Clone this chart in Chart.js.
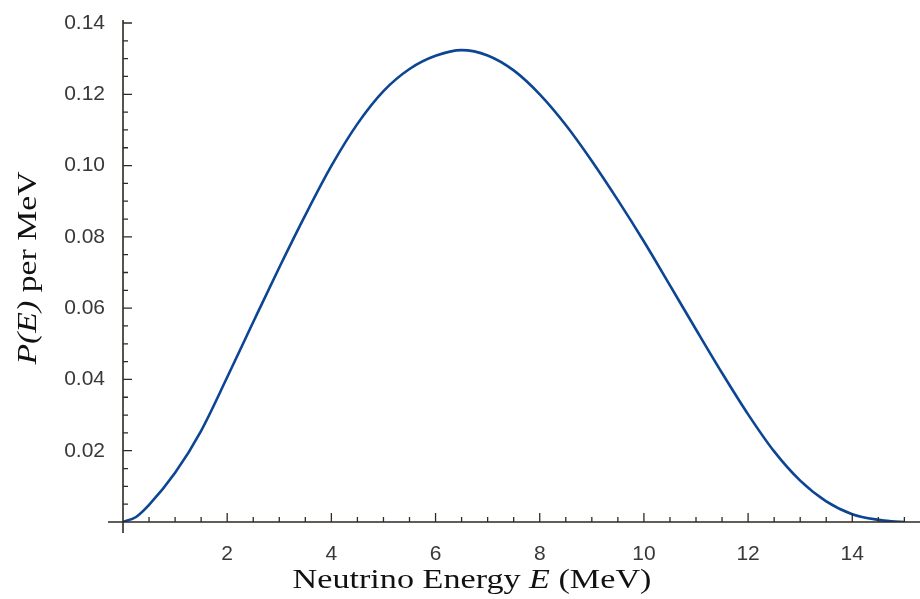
<!DOCTYPE html>
<html>
<head>
<meta charset="utf-8">
<script src="https://cdn.jsdelivr.net/npm/chart.js@4.4.1/dist/chart.umd.min.js"></script>
<style>
  body { margin: 0; background: #fff; }
  #wrap { width: 920px; height: 599px; }
</style>
</head>
<body>
<div id="wrap"><canvas id="spectrum" width="920" height="599"></canvas></div>
<script>
// Neutrino energy (MeV) and P(E) per MeV
const energies = [0, 0.25, 0.5, 1, 1.5, 2, 2.5, 3, 3.5, 4, 4.5, 5, 5.5, 6, 6.5, 7, 7.5,
  8, 8.5, 9, 9.5, 10, 10.5, 11, 11.5, 12, 12.5, 13, 13.5, 14, 14.5, 14.75, 15];
const probabilities = [0, 0.0014, 0.0048, 0.0138, 0.0256, 0.0406, 0.0561, 0.0714, 0.0861,
  0.0999, 0.1117, 0.1209, 0.1271, 0.1308, 0.1324, 0.1309, 0.1267, 0.12, 0.1114,
  0.1013, 0.0903, 0.0787, 0.0664, 0.054, 0.0418, 0.0302, 0.0198, 0.0116, 0.0058,
  0.0022, 0.0006, 0.0002, 0];

const xTicks = [2, 4, 6, 8, 10, 12, 14];
const yTicks = [0.02, 0.04, 0.06, 0.08, 0.10, 0.12, 0.14];
const xMinorStep = 0.5;
const yMinorStep = 0.005;

const axisColor = "#2e2a25";

// Mathematica-style axes: crossing lines with inward major/minor ticks, plus titles
const axesPlugin = {
  id: "axes",
  afterDraw(chart) {
    const { ctx, chartArea } = chart;
    const xs = chart.scales.x;
    const ys = chart.scales.y;
    const x0 = xs.getPixelForValue(0);
    const y0 = ys.getPixelForValue(0);

    ctx.save();
    ctx.strokeStyle = axisColor;
    ctx.lineWidth = 1.6;
    ctx.beginPath();
    ctx.moveTo(x0 - 15, y0);
    ctx.lineTo(chartArea.right, y0);
    ctx.moveTo(x0, chartArea.top - 3);
    ctx.lineTo(x0, y0 + 11);
    ctx.stroke();

    ctx.lineWidth = 1.3;
    ctx.beginPath();
    for (let v = xMinorStep; v <= xs.max; v += xMinorStep) {
      const px = xs.getPixelForValue(v);
      const major = Math.abs(v / 2 - Math.round(v / 2)) < 1e-6;
      ctx.moveTo(px, y0);
      ctx.lineTo(px, y0 - (major ? 9 : 5));
    }
    for (let v = yMinorStep; v <= ys.max + 1e-9; v += yMinorStep) {
      const py = ys.getPixelForValue(v);
      const major = Math.abs(v / 0.02 - Math.round(v / 0.02)) < 1e-6;
      ctx.moveTo(x0, py);
      ctx.lineTo(x0 + (major ? 9 : 5), py);
    }
    ctx.stroke();

    // x title: Neutrino Energy E (MeV)
    ctx.fillStyle = "#111";
    ctx.textBaseline = "alphabetic";
    const xParts = [
      ["Neutrino Energy ", "28px 'Liberation Serif'"],
      ["E", "italic 28px 'Liberation Serif'"],
      [" (MeV)", "28px 'Liberation Serif'"],
    ];
    drawParts(ctx, xParts, 472, 588, 1.22);

    // y title: P(E) per MeV, rotated
    ctx.translate(36, 268);
    ctx.rotate(-Math.PI / 2);
    const yParts = [
      ["P(E)", "italic 27px 'Liberation Serif'"],
      [" per MeV", "27px 'Liberation Serif'"],
    ];
    drawParts(ctx, yParts, 0, 0, 1.25);
    ctx.restore();
  },
};

function drawParts(ctx, parts, cx, baseY, stretch) {
  let total = 0;
  parts.forEach(([text, font]) => {
    ctx.font = font;
    total += ctx.measureText(text).width;
  });
  ctx.save();
  ctx.translate(cx, baseY);
  ctx.scale(stretch, 1);
  let x = -total / 2;
  ctx.textAlign = "left";
  parts.forEach(([text, font]) => {
    ctx.font = font;
    ctx.fillText(text, x, 0);
    x += ctx.measureText(text).width;
  });
  ctx.restore();
}

new Chart(document.getElementById("spectrum"), {
  type: "line",
  data: {
    datasets: [
      {
        data: energies.map((e, i) => ({ x: e, y: probabilities[i] })),
        borderColor: "#0c4593",
        borderWidth: 2.6,
        pointRadius: 0,
        fill: false,
        cubicInterpolationMode: "monotone",
      },
    ],
  },
  options: {
    responsive: false,
    animation: false,
    layout: {
      padding: { top: 23, right: 0, left: 0, bottom: 0 },
    },
    plugins: {
      legend: { display: false },
      tooltip: { enabled: false },
    },
    scales: {
      x: {
        type: "linear",
        min: 0,
        max: 15.3,
        afterBuildTicks(scale) {
          scale.ticks = xTicks.map((v) => ({ value: v }));
        },
        afterFit(scale) {
          scale.height = 77;
        },
        grid: { display: false },
        border: { display: false },
        ticks: {
          padding: 12,
          maxRotation: 0,
          color: "#383838",
          font: { family: "'Liberation Sans', Arial", size: 21 },
        },
      },
      y: {
        min: 0,
        max: 0.14,
        afterBuildTicks(scale) {
          scale.ticks = yTicks.map((v) => ({ value: v }));
        },
        afterFit(scale) {
          scale.width = 123;
        },
        grid: { display: false },
        border: { display: false },
        ticks: {
          padding: 10,
          color: "#383838",
          font: { family: "'Liberation Sans', Arial", size: 21 },
          callback: (v) => v.toFixed(2),
        },
      },
    },
  },
  plugins: [axesPlugin],
});
</script>
</body>
</html>
